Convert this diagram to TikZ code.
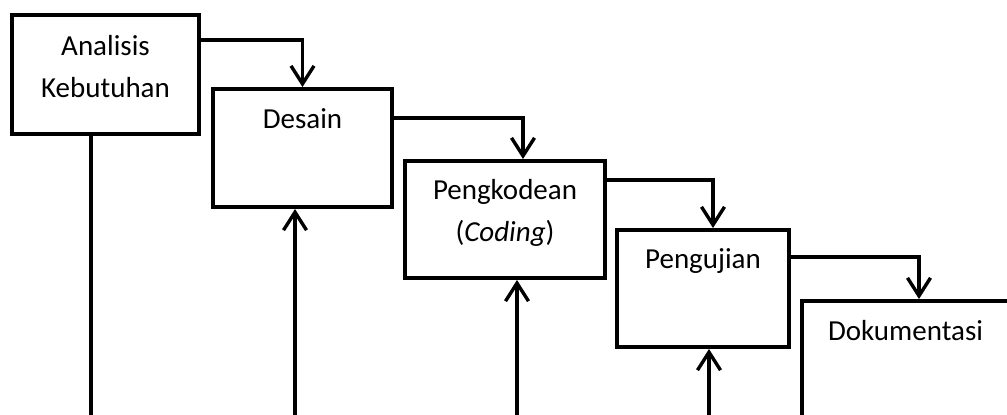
\documentclass[tikz,border=0pt]{standalone}
\usepackage{fontspec}
\setmainfont{Carlito}
\usetikzlibrary{arrows.meta}
\begin{document}
\begin{tikzpicture}[x=0.5pt,y=-0.5pt,
  box/.style={draw=black,line width=2pt,minimum width=#1*0.5pt,inner sep=0pt},
  txt/.style={anchor=base,align=center,inner sep=0pt,font=\fontsize{14.5pt}{21pt}\selectfont},
  conn/.style={draw=black,line width=1.7pt,line join=miter,-{Straight Barb[length=9pt,width=11.5pt]}},
  plain/.style={draw=black,line width=1.8pt}]
\useasboundingbox (0,0) rectangle (1007,414);
\clip (0,0) rectangle (1007,414);
\fill[white] (0,0) rectangle (1007,414);
% boxes
\node[box=187,minimum height=59.5pt] (A) at (105.5,74.5) {};
\node[box=179,minimum height=59pt] (D) at (302.5,148) {};
\node[box=200,minimum height=58.5pt] (P) at (505,219.5) {};
\node[box=172,minimum height=58.5pt] (U) at (703,288.5) {};
\node[box=210,minimum height=75pt] (K) at (907,376) {};
% texts (base anchor = last line baseline)
\node[txt] (tA) at (105.5,97) {Analisis\\Kebutuhan};
\node[txt] (tD) at (302.5,128) {Desain};
\node[txt] (tP) at (505,241) {Pengkodean\\(\textit{Coding})};
\node[txt] (tU) at (703,268) {Pengujian};
\node[txt] (tK) at (905.5,340) {Dokumentasi};
% forward connectors
\draw[conn] ([yshift=-13.5pt]A.north east) -| (D.north);
\draw[conn] ([yshift=-15.5pt]D.north east) -| ([xshift=9pt]P.north);
\draw[conn] ([yshift=-10.5pt]P.north east) -| ([xshift=5pt]U.north);
\draw[conn] ([yshift=-14.5pt]U.north east) -| ([xshift=6pt]K.north);
% bottom lines
\coordinate (b1) at (91,420);
\coordinate (b2) at (295,420);
\coordinate (b3) at (517,420);
\coordinate (b4) at (709,420);
\draw[plain] ([xshift=-7.25pt]A.south) -- (b1);
\draw[conn] (b2) -- ([xshift=-3.75pt]D.south);
\draw[conn] (b3) -- ([xshift=6pt]P.south);
\draw[conn] (b4) -- ([xshift=3pt]U.south);
\end{tikzpicture}
\end{document}
